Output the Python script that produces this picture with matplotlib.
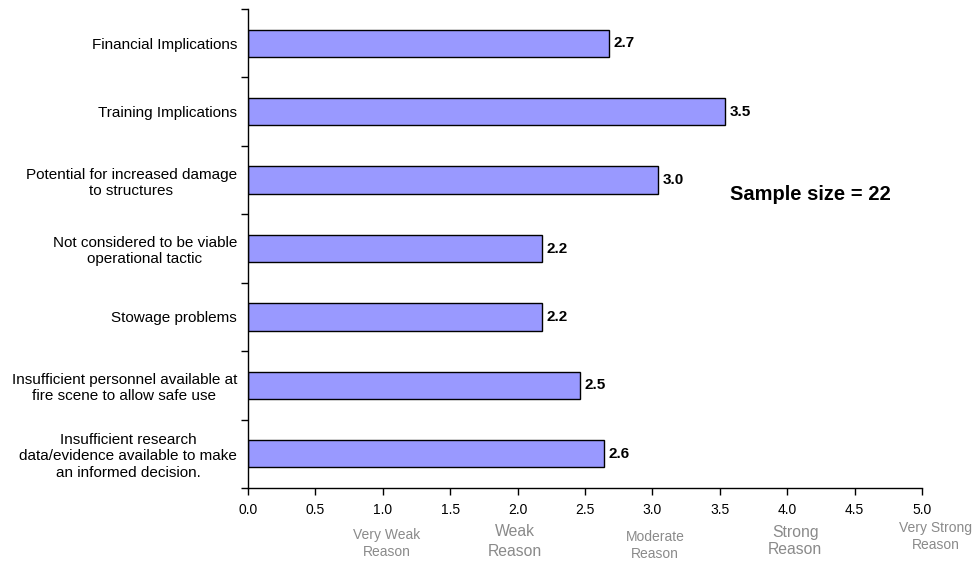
import matplotlib
matplotlib.use("Agg")
import matplotlib.pyplot as plt
import matplotlib.transforms as mtransforms

plt.rcParams['font.family'] = ['Liberation Sans', 'DejaVu Sans']

categories = [
    "Financial Implications",
    "Training Implications",
    "Potential for increased damage\nto structures",
    "Not considered to be viable\noperational tactic",
    "Stowage problems",
    "Insufficient personnel available at\nfire scene to allow safe use",
    "Insufficient research\ndata/evidence available to make\nan informed decision.",
]
scores = [2.68, 3.54, 3.04, 2.18, 2.18, 2.46, 2.64]

x_ticks = [0.0, 0.5, 1.0, 1.5, 2.0, 2.5, 3.0, 3.5, 4.0, 4.5, 5.0]

# verbal scale shown beneath the numeric axis
scale_words = [("Very Weak", "Reason"), ("Weak", "Reason"), ("Moderate", "Reason"),
               ("Strong", "Reason"), ("Very Strong", "Reason")]
scale_x = [1.03, 1.98, 3.02, 4.06, 5.10]
scale_sizes = [10, 11.3, 10, 11.3, 10]
scale_rows_px = [(535, 552), (532, 552), (537, 554), (532, 550), (528, 545)]

W, H = 976, 562
fig = plt.figure(figsize=(W / 100, H / 100), dpi=100)
ax = fig.add_axes([248 / W, 1 - 488 / H, 674 / W, 479 / H])

n = len(categories)
ypos = list(range(n))
ax.barh(ypos, scores, height=0.4, color="#9999FF", edgecolor="black", linewidth=1.0)

for y, v in zip(ypos, scores):
    ax.annotate(f"{v:.1f}", xy=(v, y), xytext=(3.3, 0), textcoords="offset points",
                va="center", ha="left", fontsize=11, fontweight="bold")

ax.set_xlim(0, 5.0)
ax.set_ylim(n - 0.5, -0.5)
ax.set_xticks(x_ticks)
ax.set_xticklabels([f"{t:.1f}" for t in x_ticks], fontsize=10)

# category boundaries carry the tick marks; labels sit at bar centres
ax.set_yticks([i - 0.5 for i in range(n + 1)])
ax.set_yticklabels([])
ax.set_yticks(ypos, minor=True)
ax.set_yticklabels(categories, minor=True, fontsize=11, ha="right", multialignment="center")
ax.tick_params(axis="y", which="minor", length=0, pad=8)
ax.tick_params(axis="y", which="major", length=5, direction="out", width=1)
ax.tick_params(axis="x", length=5, direction="out", width=1, pad=6)

for s in ("top", "right"):
    ax.spines[s].set_visible(False)
for s in ("left", "bottom"):
    ax.spines[s].set_linewidth(1)

trans = mtransforms.blended_transform_factory(ax.transData, fig.transFigure)
for x, (w1, w2), fs, (r1, r2) in zip(scale_x, scale_words, scale_sizes, scale_rows_px):
    ax.text(x, 1 - r1 / H, w1, transform=trans, ha="center", va="center",
            fontsize=fs, color="#8a8a8a", clip_on=False)
    ax.text(x, 1 - r2 / H, w2, transform=trans, ha="center", va="center",
            fontsize=fs, color="#8a8a8a", clip_on=False)

fig.text(810 / W, 1 - 195 / H, "Sample size = 22", ha="center", va="center",
         fontsize=14.5, fontweight="bold")

fig.savefig("out.png", dpi=100)
